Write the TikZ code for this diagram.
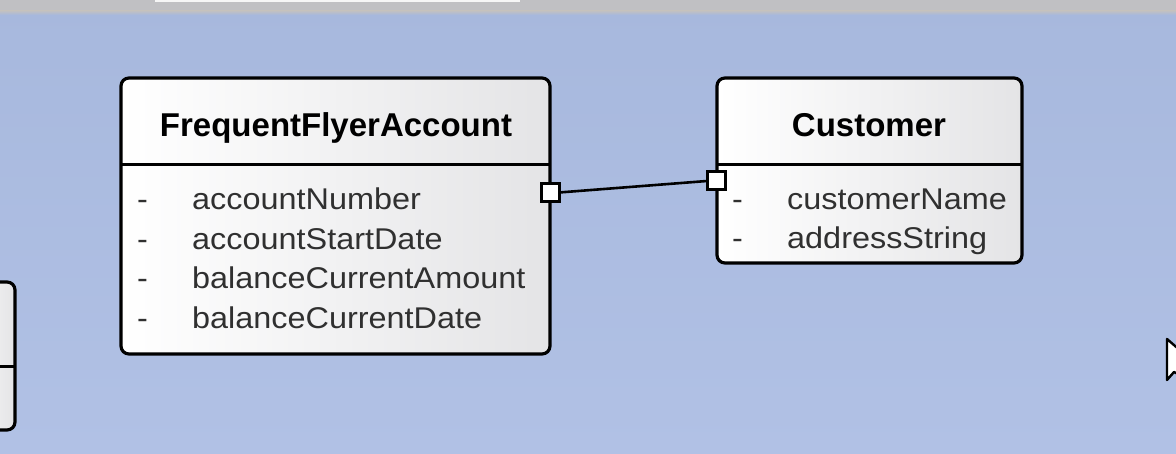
\documentclass[tikz,border=0pt]{standalone}
\usepackage{fontspec}
\setmainfont{Liberation Sans}
\newfontfamily\attrfont[FakeStretch=1.08]{Liberation Sans}
\definecolor{bgtop}{RGB}{167,184,221}
\definecolor{bgbot}{RGB}{177,193,229}
\definecolor{barcol}{RGB}{192,192,195}
\definecolor{attrcol}{RGB}{48,48,48}
\definecolor{boxright}{RGB}{228,228,230}
\begin{document}
\begin{tikzpicture}[x=1pt,y=-1pt,
  classbox/.style={draw=black, line width=3.2pt, rounded corners=8pt, left color=white, right color=boxright, inner sep=0pt, outer sep=0pt},
  divider/.style={draw=black, line width=3pt},
  classtitle/.style={font=\fontsize{33}{38}\selectfont\bfseries, text=black, anchor=base, inner sep=0pt},
  attr/.style={font=\attrfont\fontsize{30}{36}\selectfont, text=attrcol, anchor=base west, inner sep=0pt},
  port/.style={draw=black, fill=white, line width=3pt, minimum size=18pt, inner sep=0pt, outer sep=0pt},
  assoc/.style={draw=black, line width=2.6pt}]
\useasboundingbox (0,0) rectangle (1176,454);
\clip (0,0) rectangle (1176,454);
% background
\shade[top color=bgtop, bottom color=bgbot] (0,0) rectangle (1176,454);
\fill[barcol] (0,0) rectangle (1176,11);
\shade[top color=barcol, bottom color=bgtop] (0,11) rectangle (1176,15);
\fill[white!85!barcol] (155,0) rectangle (520,2.5);

% partial box at left
\node[classbox, minimum width=60pt, minimum height=148pt, anchor=north east] (left) at (15,282) {};
\draw[divider] (left.west |- 0,367) -- (left.east |- 0,367);

% FrequentFlyerAccount
\node[classbox, minimum width=429pt, minimum height=276pt, anchor=north west] (ffa) at (121,78) {};
\draw[divider] (ffa.west |- 0,165) -- (ffa.east |- 0,165);
\node[classtitle] (ffaT) at (336,137) {FrequentFlyerAccount};
\node[attr] (ffaD1) at (137,209.5) {-};
\node[attr] (ffaA1) at (192,209.5) {accountNumber};
\node[attr] (ffaD2) at (137,249.5) {-};
\node[attr] (ffaA2) at (192,249.5) {accountStartDate};
\node[attr] (ffaD3) at (137,289) {-};
\node[attr] (ffaA3) at (192,289) {balanceCurrentAmount};
\node[attr] (ffaD4) at (137,329) {-};
\node[attr] (ffaA4) at (192,329) {balanceCurrentDate};

% Customer
\node[classbox, minimum width=305pt, minimum height=185pt, anchor=north west] (cust) at (717,78) {};
\draw[divider] (cust.west |- 0,165) -- (cust.east |- 0,165);
\node[classtitle] (custT) at (869,137) {Customer};
\node[attr] (custD1) at (732,209.5) {-};
\node[attr] (custA1) at (787,209.5) {customerName};
\node[attr] (custD2) at (732,248.5) {-};
\node[attr] (custA2) at (787,248.5) {addressString};

% association
\node[port] (p1) at (550,192.5) {};
\node[port] (p2) at (716,181) {};
\draw[assoc] (p1.east) -- (p2.west);

% mouse cursor (cut off at right edge)
\filldraw[fill=white, draw=black, line width=2.4pt, line join=round] (1167,339) -- (1167,380) -- (1174,372) -- (1180,375) -- (1182,352) -- cycle;
\end{tikzpicture}
\end{document}
